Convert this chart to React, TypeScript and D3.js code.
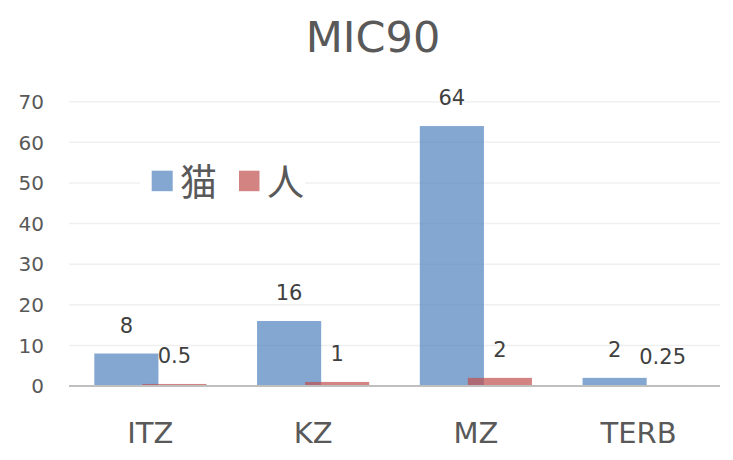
import React from 'react';
import * as d3 from 'd3';

const categories = ['ITZ', 'KZ', 'MZ', 'TERB'];
const catValues = [8, 16, 64, 2];
const humanValues = [0.5, 1, 2, 0.25];
const yTicks = [0, 10, 20, 30, 40, 50, 60, 70];
const seriesNames = ['猫', '人'];

const W = 733;
const H = 460;
const LATIN = '"DejaVu Sans", Verdana, sans-serif';
const CJK = '"Noto Sans CJK JP", "Noto Sans CJK SC", sans-serif';

const App: React.FC = () => {
    const x = d3.scaleBand<string>().domain(categories).range([69, 720]).padding(0);
    const y = d3.scaleLinear().domain([0, 70]).range([386, 101.7]);
    const bw = x.bandwidth();
    const barW = bw * 0.394;
    const shift = bw * 0.1475;

    const series = [
        {name: seriesNames[0], values: catValues, color: '#4F81BD', dx: -shift},
        {name: seriesNames[1], values: humanValues, color: '#C0504D', dx: shift},
    ];

    return (
        <svg width={W} height={H} style={{position: 'absolute', left: 0, top: 0}}>
            <rect width={W} height={H} fill="#fff"/>
            <text x={373} y={51.7} textAnchor="middle" fontFamily={LATIN} fontSize={43} fill="#595959">MIC90</text>

            {/* 網格線 */}
            {yTicks.filter(t => t > 0).map(t => (
                <line key={t} x1={69} x2={720} y1={y(t)} y2={y(t)} stroke="#f0f0f0" strokeWidth={1.5}/>
            ))}
            {yTicks.map(t => (
                <text key={t} x={44} y={y(t)} dy="0.36em" textAnchor="end" fontFamily={LATIN} fontSize={20} fill="#595959">{t}</text>
            ))}

            {/* 柱 */}
            {series.map(s => (
                <g key={s.name}>
                    {categories.map((c, i) => {
                        const cx = (x(c) as number) + bw / 2 + s.dx;
                        return (
                            <rect key={c} x={cx - barW / 2} y={y(s.values[i])} width={barW}
                                  height={y(0) - y(s.values[i])} fill={s.color} fillOpacity={0.7}/>
                        );
                    })}
                </g>
            ))}

            <line x1={69} x2={720} y1={y(0)} y2={y(0)} stroke="#bfbfbf" strokeWidth={2}/>

            {/* 數值標籤 */}
            {series.map(s => categories.map((c, i) => {
                const cx = (x(c) as number) + bw / 2 + s.dx;
                return (
                    <text key={s.name + c} x={cx} y={y(s.values[i]) - 21} textAnchor="middle"
                          fontFamily={LATIN} fontSize={21} fill="#404040">{s.values[i]}</text>
                );
            }))}

            {categories.map(c => (
                <text key={c} x={(x(c) as number) + bw / 2} y={442.7} textAnchor="middle"
                      fontFamily={LATIN} fontSize={29} fill="#595959">{c}</text>
            ))}

            {/* 圖例 */}
            <rect x={140} y={165} width={165} height={32} fill="#fff"/>
            <rect x={151.7} y={170.7} width={21} height={20.5} fill="#4F81BD" fillOpacity={0.7}/>
            <text x={180} y={180} dominantBaseline="central" fontFamily={CJK} fontSize={37} fill="#595959">{seriesNames[0]}</text>
            <rect x={239} y={170.7} width={20.5} height={20.5} fill="#C0504D" fillOpacity={0.7}/>
            <text x={267} y={180} dominantBaseline="central" fontFamily={CJK} fontSize={37} fill="#595959">{seriesNames[1]}</text>
        </svg>
    );
};

export default App;
